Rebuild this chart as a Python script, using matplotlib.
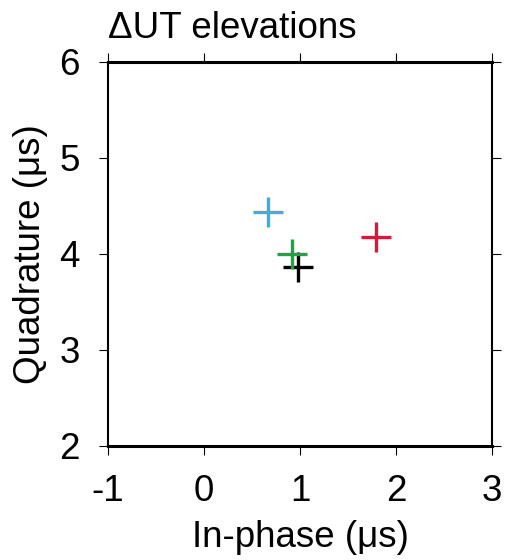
import matplotlib
matplotlib.use("Agg")
import matplotlib.pyplot as plt

plt.rcParams['font.family'] = ['Liberation Sans', 'DejaVu Sans']

# Data (drawing order: black first, green last so it sits on top)
labels = ["black", "blue", "red", "green"]
in_phase = [0.98, 0.67, 1.79, 0.92]
quadrature = [3.86, 4.44, 4.18, 4.00]
colors = ["#000000", "#4aaad6", "#c8203a", "#2a9d47"]
xticks = [-1, 0, 1, 2, 3]
yticks = [2, 3, 4, 5, 6]

fig = plt.figure(figsize=(5.11, 5.6), dpi=100)
ax = fig.add_axes([0.2114, 0.2036, 0.7515, 0.6857])

for x, y, c in zip(in_phase, quadrature, colors):
    ax.plot([x], [y], marker='+', linestyle='none', color=c,
            markersize=21.5, markeredgewidth=2.4)

ax.set_xlim(-1, 3)
ax.set_ylim(2, 6)
ax.set_xticks(xticks)
ax.set_yticks(yticks)
ax.set_xticklabels([str(t) for t in xticks])
ax.set_yticklabels([str(t) for t in yticks])

FS = 26.5
ax.tick_params(which='both', direction='out', length=6.5, width=0.8,
               top=True, right=True, labeltop=False, labelright=False,
               labelsize=FS, color='black')
ax.tick_params(axis='x', pad=13.5)
ax.tick_params(axis='y', pad=14)

for side in ['top', 'bottom']:
    ax.spines[side].set_linewidth(2.2)
for side in ['left', 'right']:
    ax.spines[side].set_linewidth(1.5)

ax.set_xlabel("In-phase (μs)", fontsize=FS, labelpad=8)
ax.set_ylabel("Quadrature (μs)", fontsize=FS, labelpad=8)
ax.set_title("ΔUT elevations", fontsize=FS, loc='left', pad=17)

fig.savefig("out.png", dpi=100)
